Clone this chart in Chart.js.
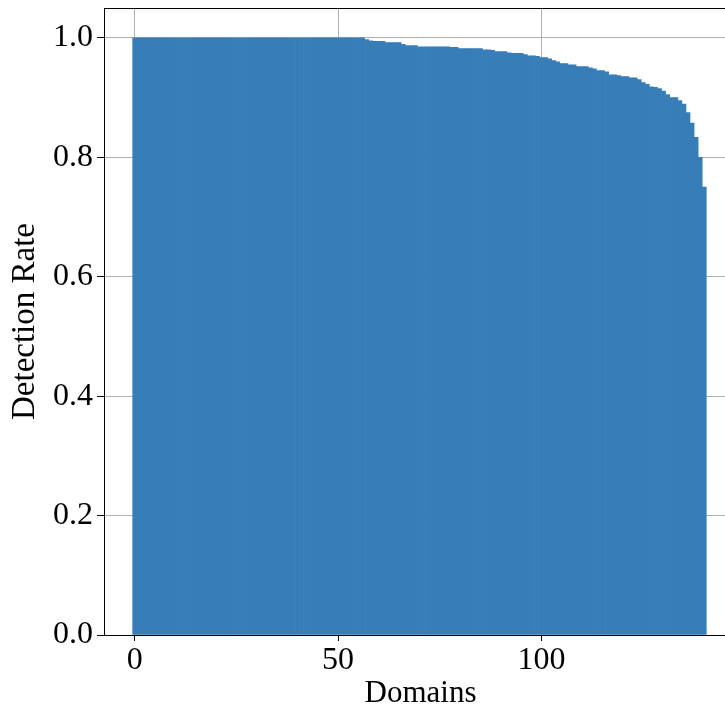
<!DOCTYPE html>
<html>
<head>
<meta charset="utf-8">
<script src="https://cdn.jsdelivr.net/npm/chart.js@4/dist/chart.umd.min.js"></script>
<style>
html,body{margin:0;padding:0;background:#fff;overflow:hidden;}
#wrap{position:absolute;left:0;top:0;width:750px;height:716px;}
</style>
</head>
<body>
<div id="wrap"><canvas id="chart"></canvas></div>
<script>
// detection rate per domain, sorted high to low (domain index = position)
const detectionRates=[
1,1,1,1,1,1,1,1,1,1,1,1,1,1,1,1,1,1,1,1,
1,1,1,1,1,1,1,1,1,1,1,1,1,1,1,1,1,1,1,1,
1,1,1,1,1,1,1,1,1,1,1,1,1,1,1,1,1,
0.997,0.995,0.994,0.994,0.994,0.992,0.992,0.992,0.992,
0.989,0.987,0.987,0.987,
0.985,0.985,0.985,0.985,0.985,0.985,0.985,0.985,
0.984,0.984,0.982,0.982,0.982,0.982,0.982,0.982,
0.980,0.980,0.979,0.977,0.977,0.977,0.975,0.974,0.974,0.974,
0.972,0.970,0.970,0.969,0.967,0.967,0.965,0.962,0.960,
0.957,0.957,0.955,0.955,0.952,0.952,0.952,0.950,0.948,
0.945,0.945,0.943,0.938,0.938,0.937,0.935,0.935,0.933,0.933,
0.930,0.925,0.922,0.918,0.917,0.915,0.911,0.905,0.900,0.900,
0.895,0.8889,0.875,0.8571,0.8333,0.8,0.75
]

const yTicks=[0,0.2,0.4,0.6,0.8,1.0]
const xTicks=[0,50,100]

const xLabel="Domains"
const yLabel="Detection Rate"

const barColor="#377eb8"
const gridColor="#b0b0b0"

Chart.defaults.font.family="'Liberation Serif','Times New Roman',serif"
Chart.defaults.color="#000"

/* frame on all four sides, above the bars like matplotlib spines */
const frame={
id:"frame",
afterDatasetsDraw(c){
const a=c.chartArea
const g=c.ctx
g.save()
g.strokeStyle="#000"
g.lineWidth=1
g.strokeRect(Math.round(a.left)+0.5,Math.round(a.top)+0.5,Math.round(a.right-a.left),Math.round(a.bottom-a.top))
g.restore()
}
}

const ctx=document.getElementById("chart").getContext("2d")

new Chart(ctx,{
type:"bar",
data:{
datasets:[{
data:detectionRates.map((v,i)=>({x:i,y:v})),
backgroundColor:barColor,
borderWidth:0,
barPercentage:1,
categoryPercentage:1
}]
},
options:{
responsive:true,
maintainAspectRatio:false,
animation:false,
layout:{padding:{left:0,top:8,right:13,bottom:0}},
plugins:{legend:{display:false},tooltip:{enabled:false}},
scales:{
x:{
type:"linear",
offset:false,
min:-7.55,
max:148.05,
afterBuildTicks(s){s.ticks=xTicks.map(v=>({value:v}))},
afterFit(s){s.height=81;s.paddingLeft=0;s.paddingRight=0},
ticks:{font:{size:32},padding:0,maxRotation:0,callback:v=>String(v)},
grid:{offset:false,color:gridColor,lineWidth:1,tickLength:6,tickColor:"#000"},
border:{display:false},
title:{display:true,text:xLabel,font:{size:31},padding:{top:0,bottom:4}}
},
y:{
min:0,
max:1.05,
afterBuildTicks(s){s.ticks=yTicks.map(v=>({value:v}))},
afterFit(s){s.width=104;s.paddingTop=0;s.paddingBottom=0},
ticks:{font:{size:32},padding:4,callback:v=>v.toFixed(1)},
grid:{color:gridColor,lineWidth:1,tickLength:7,tickColor:"#000"},
border:{display:false},
title:{display:true,text:yLabel,font:{size:33},padding:{top:6,bottom:0}}
}
}
},
plugins:[frame]
})
</script>
</body>
</html>
